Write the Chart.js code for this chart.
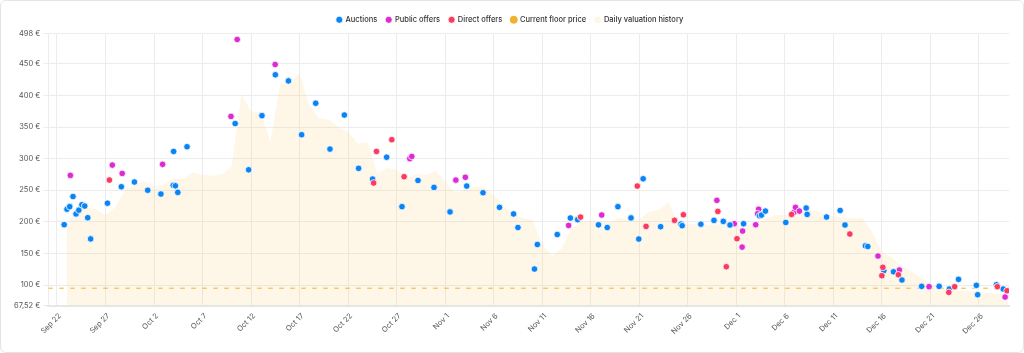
<!DOCTYPE html>
<html>
<head>
<meta charset="utf-8">
<style>
  html, body { margin: 0; padding: 0; background: #fff; }
  .card {
    box-sizing: border-box;
    width: 1024px; height: 353px;
    border: 1px solid #e4e4e4;
    border-radius: 6px;
    background: #fff;
  }
  .card canvas { display: block; }
</style>
</head>
<body>
<div class="card"><canvas id="valuationChart"></canvas></div>
<script src="https://cdn.jsdelivr.net/npm/chart.js"></script>
<script>
// x values are days counted from Sep 22
const tickDays = [0, 5, 10, 15, 20, 25, 30, 35, 40, 45, 50, 55, 60, 65, 70, 75, 80, 85, 90, 95];
const tickLabels = ["Sep 22", "Sep 27", "Oct 2", "Oct 7", "Oct 12", "Oct 17", "Oct 22", "Oct 27", "Nov 1", "Nov 6",
    "Nov 11", "Nov 16", "Nov 21", "Nov 26", "Dec 1", "Dec 6", "Dec 11", "Dec 16", "Dec 21", "Dec 26"];
const priceTicks = [67.52, 100, 150, 200, 250, 300, 350, 400, 450, 498];

const auctionDays = [0.74, 1.03, 1.31, 1.65, 1.96, 2.25, 2.57, 2.86, 3.17, 3.47, 5.2, 6.63, 7.98, 9.35, 10.71, 11.98, 12.2, 12.45,
    12.02, 13.4, 18.36, 19.75, 21.12, 22.5, 23.85, 25.21, 26.66, 28.13, 29.61, 31.08, 32.52, 33.97, 35.55, 37.2, 38.85, 40.5,
    42.22, 43.9, 45.6, 47.05, 47.5, 49.2, 49.5, 51.55, 52.9, 53.65, 55.8, 56.7, 57.8, 59.15, 59.95, 60.4, 62.2, 64.3, 64.42,
    66.35, 67.7, 68.66, 69.35, 70.75, 72.4, 72.6, 73.0, 75.1, 77.2, 77.3, 79.3, 80.7, 81.2, 83.3, 83.55, 85.2, 86.2, 87.07,
    89.1, 90.9, 91.95, 92.9, 94.74, 94.87, 96.8, 97.5];
const auctionPrices = [195.5, 220, 224, 240, 212.5, 218.5, 227, 225, 206.5, 173, 229.5, 255.5, 263, 250, 244, 257.7, 257, 246.6,
    311.4, 318.8, 355.5, 282.3, 368, 432.7, 423, 337.8, 387.7, 315.1, 369, 284.6, 267.7, 302.3, 224, 265.5, 254.5, 215.7,
    256.6, 246, 222.9, 212.5, 191, 125.3, 164.2, 180, 206, 203.5, 195.2, 191, 224, 206.2, 172.8, 268.1, 192.3, 196.5, 193.9,
    196.3, 202.3, 200.7, 195, 197, 209.7, 210.7, 217, 199, 221.8, 211.8, 207.6, 218, 195, 162, 161, 122.7, 121, 108,
    97.9, 97.9, 93.7, 109, 99.5, 84.7, 100.5, 93.7];

const publicDays = [1.38, 5.7, 6.72, 10.88, 17.93, 18.57, 22.48, 36.36, 36.56, 41.1, 42.08, 52.72, 56.13, 68.0, 69.8, 70.65,
    70.6, 72.0, 72.3, 72.2, 75.95, 76.1, 76.5, 84.6, 86.8, 89.86, 97.7];
const publicPrices = [273.5, 289.8, 276.6, 291, 366.8, 488.6, 449, 300, 303.5, 266, 270.5, 194.3, 210.8, 234, 197, 185.4,
    160, 195.4, 220, 212.8, 215, 222.9, 217, 145.9, 123.7, 97.4, 81];

const directDays = [5.4, 32.63, 32.92, 34.5, 35.77, 53.95, 59.8, 60.7, 63.63, 64.55, 68.1, 68.97, 70.07, 75.7, 81.7, 85.0,
    85.1, 86.7, 91.9, 92.5, 96.9, 97.9];
const directPrices = [266.1, 261.5, 311.4, 330, 271.4, 207.5, 256.6, 192.8, 202.3, 211.2, 216.5, 129, 173.3, 211.8, 180.7, 114.8,
    128, 116.3, 88.4, 97.4, 97.4, 91];

const floorPrice = 95;

// one value per day, day 1 .. day 98
const historyValues = [191, 218, 223, 220, 211, 223, 250, 258, 264, 256, 259, 268, 268, 278, 274, 273, 275, 288, 402, 375,
    373, 327, 418, 420, 435, 384, 364, 362, 350, 342, 324, 326, 277, 285, 283, 268, 276, 274, 281, 264,
    247, 250, 255, 255, 243, 225, 213, 206, 203, 165, 146, 158, 190, 199, 202, 201, 200, 207, 203, 204,
    216, 219, 231, 199, 196, 196, 195, 196, 195, 194, 195, 198, 205, 211, 211, 214, 217, 218, 213, 209,
    207, 206, 206, 184, 152, 144, 130, 122, 112, 103, 94, 92, 91, 90, 89, 88, 86, 85];

const xMin = -0.9;
const xMax = 98.1;

const toPoints = (days, prices) => days.map((d, i) => ({x: d, y: prices[i]}));
const euro = v => String(v).replace('.', ',') + ' €';

Chart.defaults.font.family = 'Inter, "Noto Sans", sans-serif';
Chart.defaults.font.size = 7.5;
Chart.defaults.color = '#555';

const dotStyle = {
    pointRadius: 3.3,
    pointHoverRadius: 4,
    pointBorderColor: '#fff',
    pointBorderWidth: 0.8,
    borderColor: '#fff',
    borderWidth: 0.8
};

new Chart(document.getElementById('valuationChart'), {
    type: 'scatter',
    data: {
        datasets: [
            {
                label: 'Auctions',
                data: toPoints(auctionDays, auctionPrices),
                backgroundColor: '#0a84f5',
                pointBackgroundColor: '#0a84f5',
                order: 1,
                ...dotStyle
            },
            {
                label: 'Public offers',
                data: toPoints(publicDays, publicPrices),
                backgroundColor: '#dc2bd2',
                pointBackgroundColor: '#dc2bd2',
                order: 2,
                ...dotStyle
            },
            {
                label: 'Direct offers',
                data: toPoints(directDays, directPrices),
                backgroundColor: '#fb3a5f',
                pointBackgroundColor: '#fb3a5f',
                order: 0,
                ...dotStyle
            },
            {
                type: 'line',
                label: 'Current floor price',
                data: [{x: xMin, y: floorPrice}, {x: xMax, y: floorPrice}],
                borderColor: '#efb12e',
                backgroundColor: '#efb12e',
                borderWidth: 1,
                borderDash: [4.5, 6.5],
                pointRadius: 0,
                order: 5
            },
            {
                type: 'line',
                label: 'Daily valuation history',
                data: historyValues.map((v, i) => ({x: i + 1, y: v})),
                borderWidth: 0,
                borderColor: 'rgba(0,0,0,0)',
                backgroundColor: 'rgba(247, 205, 110, 0.17)',
                fill: 'start',
                tension: 0,
                pointRadius: 0,
                order: 10
            }
        ]
    },
    options: {
        responsive: true,
        maintainAspectRatio: false,
        animation: false,
        layout: {padding: {left: 10, right: 14, top: 6, bottom: 10}},
        plugins: {
            legend: {
                position: 'top',
                labels: {
                    usePointStyle: true,
                    pointStyle: 'circle',
                    boxWidth: 5,
                    boxHeight: 5,
                    padding: 9,
                    color: '#333',
                    font: {size: 7.5, weight: '500'},
                    sort: (a, b) => a.datasetIndex - b.datasetIndex
                }
            },
            tooltip: {enabled: false}
        },
        scales: {
            x: {
                type: 'linear',
                min: xMin,
                max: xMax,
                afterBuildTicks: axis => { axis.ticks = tickDays.map(v => ({value: v})); },
                ticks: {
                    autoSkip: false,
                    maxRotation: 45,
                    minRotation: 45,
                    padding: 6,
                    labelOffset: 3,
                    callback: v => tickLabels[tickDays.indexOf(v)]
                },
                grid: {color: '#ececec', drawTicks: false},
                border: {color: '#e6e6e6', width: 2}
            },
            y: {
                min: priceTicks[0],
                max: priceTicks[priceTicks.length - 1],
                afterBuildTicks: axis => { axis.ticks = priceTicks.map(v => ({value: v})); },
                ticks: {
                    padding: 3,
                    callback: v => euro(v)
                },
                grid: {color: '#ececec', tickLength: 5},
                border: {color: '#ececec'}
            }
        }
    }
});
</script>
</body>
</html>
